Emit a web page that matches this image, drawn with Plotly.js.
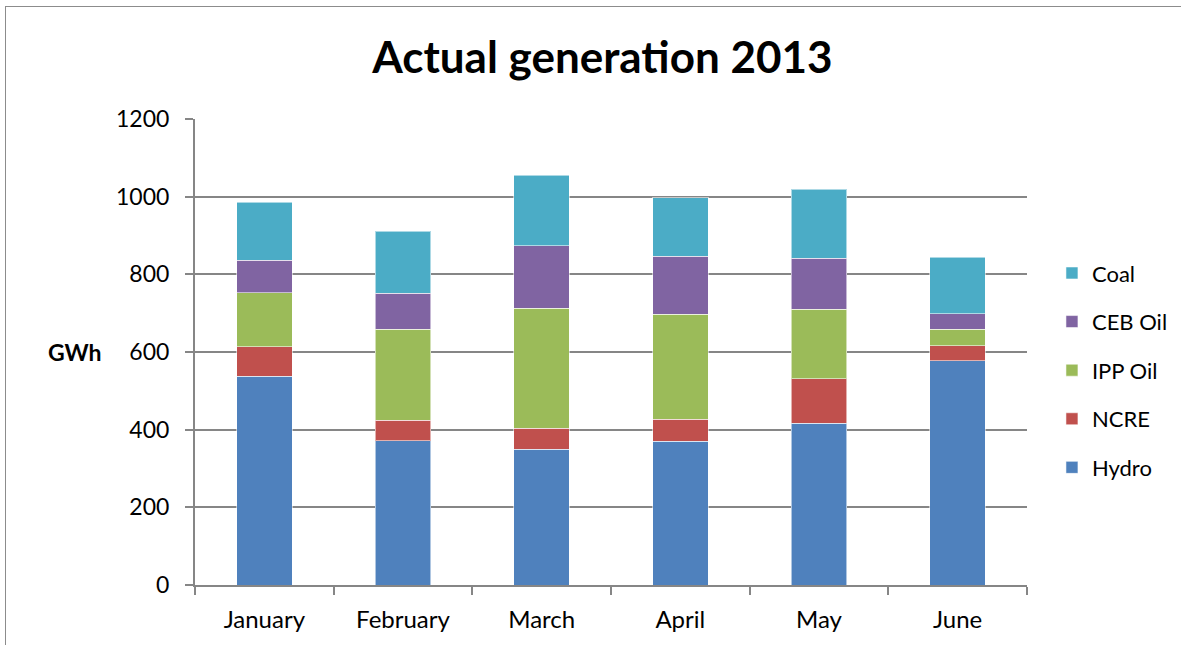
<!DOCTYPE html>
<html>
<head>
<meta charset="utf-8">
<script src="https://cdn.plot.ly/plotly-3.0.1.min.js"></script>
<style>
  html, body { margin: 0; padding: 0; overflow: hidden; background: #fff; }
  #frame { position: absolute; left: 5px; top: 6px; width: 1300px; height: 800px;
           border-top: 1px solid #8c8c8c; border-left: 1px solid #8c8c8c; }
  #chart { position: absolute; left: 0; top: 0; width: 1200px; height: 645px; }
</style>
</head>
<body>
<div id="frame"></div>
<div id="chart"></div>
<script>
const months = ["January", "February", "March", "April", "May", "June"];
const hydro  = [538, 372, 350, 370, 417, 578];
const ncre   = [75, 52, 54, 57, 114, 38];
const ippOil = [139, 234, 309, 270, 179, 42];
const cebOil = [84, 93, 161, 149, 132, 40];
const coal   = [150, 160, 181, 151, 177, 146];

const seriesNames  = ["Hydro", "NCRE", "IPP Oil", "CEB Oil", "Coal"];
const seriesValues = [hydro, ncre, ippOil, cebOil, coal];
const seriesColors = ["#4F81BD", "#C0504D", "#9BBB59", "#8064A2", "#4BACC6"];

const FONT = "Lato, 'Open Sans', sans-serif";

const traces = seriesNames.map((name, i) => ({
  type: "bar",
  name: name,
  x: months,
  y: seriesValues[i],
  legendgroup: name,
  legendrank: 1000 - i,
  marker: { color: seriesColors[i], line: { color: "rgba(255,255,255,0.55)", width: 1 } },
  hoverinfo: "x+y+name"
}));

const layout = {
  width: 1200,
  height: 645,
  paper_bgcolor: "rgba(0,0,0,0)",
  plot_bgcolor: "rgba(0,0,0,0)",
  barmode: "stack",
  bargap: 0.6,
  margin: { l: 195, r: 173, t: 119, b: 60 },
  font: { family: FONT, size: 22, color: "#000" },
  title: {
    text: "<b>Actual generation 2013</b>",
    font: { family: FONT, size: 44, color: "#000" },
    x: 0.502, xanchor: "center",
    y: 0.91, yanchor: "middle"
  },
  xaxis: {
    type: "category",
    showline: true, linecolor: "#868686", linewidth: 2,
    ticks: "outside", tickson: "boundaries", ticklen: 8, tickcolor: "#868686", tickwidth: 2,
    showgrid: false,
    tickfont: { family: FONT, size: 24 },
    ticklabelstandoff: 12
  },
  yaxis: {
    range: [0, 1200],
    tickvals: [0, 200, 400, 600, 800, 1000, 1200],
    showline: true, linecolor: "#868686", linewidth: 2,
    ticks: "outside", ticklen: 8, tickcolor: "#868686", tickwidth: 2,
    showgrid: true, gridcolor: "#868686", gridwidth: 2,
    zeroline: false,
    tickfont: { family: FONT, size: 23 },
    ticklabelstandoff: 11
  },
  legend: {
    traceorder: "grouped",
    tracegroupgap: 17,
    x: 1.030, xanchor: "left",
    y: 0.461, yanchor: "middle",
    font: { family: FONT, size: 22 },
    itemwidth: 30
  },
  annotations: [{
    text: "<b>GWh</b>",
    xref: "paper", yref: "paper",
    x: -0.109, y: 0.5, xanchor: "right", yanchor: "middle",
    showarrow: false,
    font: { family: FONT, size: 23, color: "#000" }
  }],
  showlegend: true
};

Plotly.newPlot("chart", traces, layout, { displayModeBar: false, staticPlot: true });
</script>
</body>
</html>
